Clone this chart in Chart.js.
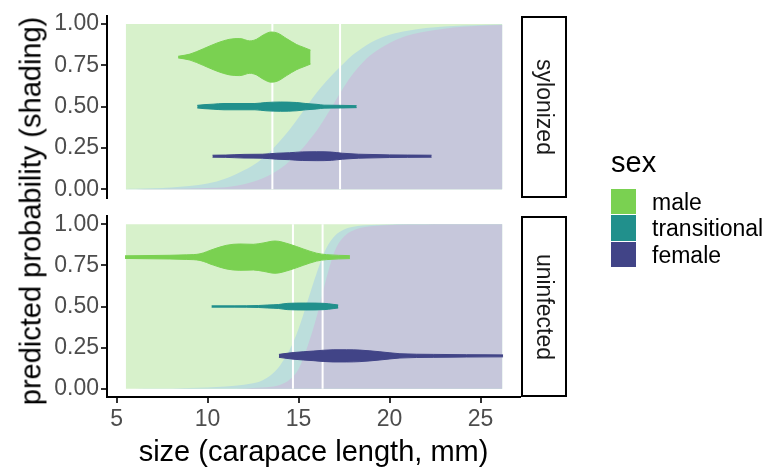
<!DOCTYPE html>
<html>
<head>
<meta charset="utf-8">
<script src="https://cdn.jsdelivr.net/npm/chart.js@4.4.1/dist/chart.umd.min.js"></script>
<style>
  html, body { margin: 0; padding: 0; background: #fff; }
  #wrap { position: relative; width: 766px; height: 472px; overflow: hidden;
          font-family: "Liberation Sans", Arial, sans-serif; }
  #wrap canvas { position: absolute; left: 0; }
  #topChart { top: 0; }
  #bottomChart { top: 180px; }
  .ytitle { position: absolute; left: 31px; top: 211px; white-space: nowrap;
            transform: translate(-50%, -50%) rotate(-90deg); font-size: 29px; color: #000; }
  .strip { position: absolute; left: 521px; width: 42px; border: 2px solid #000; }
  .strip span { position: absolute; left: 50%; top: 50%; white-space: nowrap;
                transform: translate(-50%, -50%) rotate(90deg); font-size: 23px; color: #1a1a1a; }
  .legend-title { position: absolute; left: 611px; top: 148px; font-size: 29px; line-height: 29px; color: #000; }
  .key { position: absolute; left: 611px; width: 25px; height: 25.5px; }
  .key-label { position: absolute; left: 652px; font-size: 23px; line-height: 23px; color: #000; }
</style>
</head>
<body>
<div id="wrap">
  <canvas id="topChart" width="766" height="240"></canvas>
  <canvas id="bottomChart" width="766" height="292"></canvas>
  <div class="ytitle">predicted probability (shading)</div>
  <div class="strip" style="top:15.5px;height:178px"><span>sylonized</span></div>
  <div class="strip" style="top:216px;height:177px"><span>uninfected</span></div>
  <div id="legend"></div>
</div>
<script>
// shared x grid for the predicted probability shading
const sizeGrid = [5.5, 6, 7, 8, 9, 10, 11, 12, 12.5, 13, 13.5, 14, 14.5, 15, 15.5, 16, 16.5, 17, 17.5, 18, 18.5, 19, 20, 21, 22, 23, 24, 25, 26.2];

// predicted probabilities, sylonized
const sylFemale = [0, 0, 0.001, 0.003, 0.005, 0.008, 0.012, 0.03, 0.045, 0.065, 0.09, 0.125, 0.17, 0.222, 0.285, 0.355, 0.44, 0.53, 0.62, 0.70, 0.765, 0.815, 0.885, 0.93, 0.955, 0.972, 0.983, 0.99, 0.994];
const sylTransitional = [0.002, 0.003, 0.005, 0.008, 0.014, 0.026, 0.053, 0.085, 0.10, 0.12, 0.145, 0.17, 0.19, 0.213, 0.225, 0.23, 0.21, 0.18, 0.145, 0.115, 0.09, 0.075, 0.05, 0.03, 0.021, 0.013, 0.008, 0.005, 0.003];

// predicted probabilities, uninfected
const uninfFemale = [0, 0, 0, 0, 0, 0, 0, 0.002, 0.004, 0.007, 0.012, 0.025, 0.055, 0.12, 0.26, 0.44, 0.66, 0.84, 0.925, 0.962, 0.98, 0.988, 0.995, 0.998, 0.999, 1, 1, 1, 1];
const uninfTransitional = [0, 0, 0.001, 0.002, 0.004, 0.008, 0.014, 0.022, 0.029, 0.043, 0.073, 0.12, 0.18, 0.245, 0.275, 0.265, 0.19, 0.09, 0.043, 0.023, 0.013, 0.008, 0.004, 0.002, 0.001, 0, 0, 0, 0];

// violins: size positions and half widths (probability units)
const sylMaleSize = [8.38, 9.03, 9.76, 10.49, 11.22, 11.77, 12.32, 12.69, 13.06, 13.5, 13.85, 14.34, 14.89, 15.25, 15.66];
const sylMaleWidth = [0.005, 0.018, 0.05, 0.084, 0.108, 0.112, 0.098, 0.108, 0.134, 0.152, 0.145, 0.112, 0.076, 0.06, 0.042];
const sylTransSize = [9.43, 9.8, 10.3, 10.9, 12.6, 13.2, 14.0, 14.9, 15.4, 16.0, 16.4, 17.3, 18.19];
const sylTransWidth = [0.008, 0.012, 0.015, 0.019, 0.019, 0.025, 0.028, 0.025, 0.019, 0.014, 0.009, 0.008, 0.006];
const sylFemaleSize = [10.27, 11.0, 12.0, 13.0, 13.8, 14.5, 15.2, 16.0, 16.8, 17.4, 18.3, 19.2, 20.0, 21.0, 22.31];
const sylFemaleWidth = [0.006, 0.007, 0.011, 0.012, 0.018, 0.021, 0.026, 0.027, 0.025, 0.018, 0.012, 0.010, 0.008, 0.007, 0.006];

const uninfMaleSize = [5.46, 7.0, 8.85, 9.58, 10.31, 11.04, 11.77, 12.51, 13.05, 13.7, 14.52, 15.25, 15.99, 16.54, 17.82];
const uninfMaleWidth = [0.008, 0.01, 0.014, 0.02, 0.048, 0.072, 0.08, 0.078, 0.086, 0.098, 0.078, 0.05, 0.024, 0.015, 0.009];
const uninfTransSize = [10.22, 11.5, 12.8, 13.3, 13.9, 14.4, 15.4, 16.4, 16.9, 17.18];
const uninfTransWidth = [0.004, 0.004, 0.006, 0.009, 0.012, 0.019, 0.021, 0.019, 0.013, 0.009];
const uninfFemaleSize = [13.92, 14.7, 15.8, 16.9, 17.64, 18.37, 19.47, 20.57, 22.4, 24.23, 26.24];
const uninfFemaleWidth = [0.009, 0.02, 0.029, 0.037, 0.037, 0.035, 0.025, 0.013, 0.009, 0.007, 0.006];

const sexes = ['male', 'transitional', 'female'];
const violinLevel = [0.8, 0.5, 0.2];

// white reference lines
const sylLines = [13.56, 17.28];
const uninfLines = [14.69, 16.32];

const probTicks = [0, 0.25, 0.5, 0.75, 1];
const sizeTicks = [5, 10, 15, 20, 25];

const sexColours = ['#7AD151', '#21908C', '#414487'];
const shadeColours = ['#D7F1CB', '#BCDEDC', '#C6C7DB'];

Chart.defaults.font.family = '"Liberation Sans", Arial, sans-serif';

function buildPanel(canvasId, female, trans, violins, lines, showX, padding) {
    const pts = arr => sizeGrid.map((x, i) => ({ x: x, y: arr[i] }));
    const cumFT = female.map((v, i) => v + trans[i]);
    const area = (data, colour, order) => ({
        data: data, fill: 'origin', backgroundColor: colour, borderWidth: 0,
        pointRadius: 0, cubicInterpolationMode: 'monotone', order: order
    });

    // stacked shading: male on top to 1, then transitional, female at the bottom
    const datasets = [
        area(sizeGrid.map(x => ({ x: x, y: 1 })), shadeColours[0], 30),
        area(pts(cumFT), shadeColours[1], 29),
        area(pts(female), shadeColours[2], 28)
    ];

    lines.forEach(v => {
        datasets.push({
            data: [{ x: v, y: 0 }, { x: v, y: 1 }], borderColor: '#fff', borderWidth: 2,
            pointRadius: 0, fill: false, order: 20
        });
    });

    // each violin = upper edge filled down to lower edge
    violins.forEach((v, k) => {
        const c = violinLevel[k];
        const col = sexColours[k];
        datasets.push({
            data: v.size.map((x, i) => ({ x: x, y: c + v.width[i] })),
            fill: '+1', backgroundColor: col, borderColor: col, borderWidth: 1,
            pointRadius: 0, cubicInterpolationMode: 'monotone', order: 10
        });
        datasets.push({
            data: v.size.map((x, i) => ({ x: x, y: c - v.width[i] })),
            fill: false, borderColor: col, borderWidth: 1,
            pointRadius: 0, cubicInterpolationMode: 'monotone', order: 9
        });
    });

    const xScale = {
        type: 'linear', min: 4.47, max: 27.17,
        display: showX,
        afterBuildTicks: s => { s.ticks = sizeTicks.map(v => ({ value: v })); },
        grid: { drawOnChartArea: false, tickLength: 6, color: '#333', lineWidth: 2 },
        border: { display: true, color: '#000', width: 2 },
        ticks: { color: '#4D4D4D', font: { size: 23 }, padding: 3, maxRotation: 0, autoSkip: false },
        title: { display: true, text: 'size (carapace length, mm)', color: '#000',
                 font: { size: 29 }, padding: { top: 0, bottom: 2 } }
    };
    if (showX) {
        xScale.afterFit = s => { s.height = 75; };
    }

    return new Chart(document.getElementById(canvasId), {
        type: 'line',
        data: { datasets: datasets },
        options: {
            responsive: false,
            animation: false,
            events: [],
            layout: { padding: padding },
            plugins: { legend: { display: false }, tooltip: { enabled: false } },
            scales: {
                x: xScale,
                y: {
                    min: -0.05, max: 1.05,
                    afterBuildTicks: s => { s.ticks = probTicks.map(v => ({ value: v })); },
                    afterFit: s => { s.width = 107; },
                    grid: { drawOnChartArea: false, tickLength: 6, color: '#333', lineWidth: 2 },
                    border: { display: true, color: '#000', width: 2 },
                    ticks: { color: '#4D4D4D', font: { size: 23 }, padding: 2, autoSkip: false,
                             callback: v => v.toFixed(2) }
                }
            }
        }
    });
}

// top panel: canvas 0..240, plot area 15.5..197.5
buildPanel('topChart', sylFemale, sylTransitional, [
    { size: sylMaleSize, width: sylMaleWidth },
    { size: sylTransSize, width: sylTransWidth },
    { size: sylFemaleSize, width: sylFemaleWidth }
], sylLines, false, { left: 0, right: 246, top: 15.5, bottom: 42.5 });

// bottom panel: canvas 180..472, plot area 216..397
buildPanel('bottomChart', uninfFemale, uninfTransitional, [
    { size: uninfMaleSize, width: uninfMaleWidth },
    { size: uninfTransSize, width: uninfTransWidth },
    { size: uninfFemaleSize, width: uninfFemaleWidth }
], uninfLines, true, { left: 0, right: 246, top: 36, bottom: 0 });

// legend
const legend = document.getElementById('legend');
legend.innerHTML = '<div class="legend-title">sex</div>';
sexes.forEach((s, i) => {
    const key = document.createElement('div');
    key.className = 'key';
    key.style.top = (188.5 + i * 26.5) + 'px';
    key.style.background = sexColours[i];
    legend.appendChild(key);

    const label = document.createElement('div');
    label.className = 'key-label';
    label.style.top = (190.5 + i * 26.5) + 'px';
    label.textContent = s;
    legend.appendChild(label);
});
</script>
</body>
</html>
